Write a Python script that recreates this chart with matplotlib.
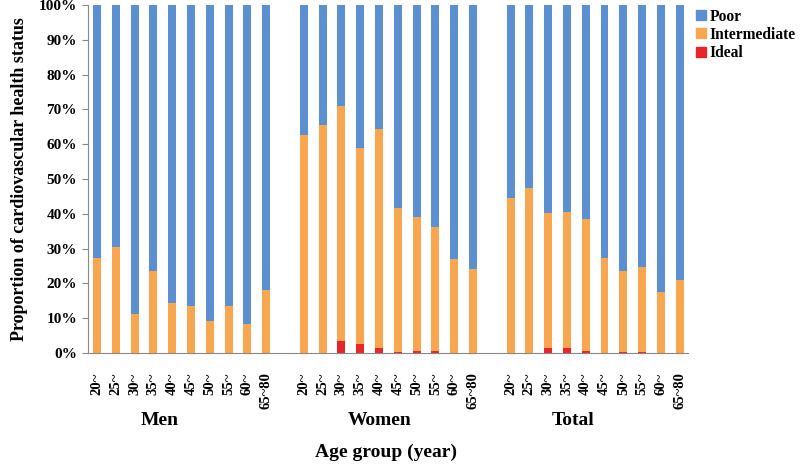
import matplotlib
matplotlib.use("Agg")
import matplotlib.pyplot as plt
import numpy as np
from matplotlib.lines import Line2D

ages = ["20~", "25~", "30~", "35~", "40~", "45~", "50~", "55~", "60~", "65~80"]
groups = ["Men", "Women", "Total"]

# percent of each group in each status
ideal_men = [0, 0, 0, 0, 0, 0, 0, 0, 0, 0]
inter_men = [27.3, 30.4, 11.2, 23.7, 14.5, 13.5, 9.3, 13.5, 8.3, 18.1]
poor_men = [72.7, 69.6, 88.8, 76.3, 85.5, 86.5, 90.7, 86.5, 91.7, 81.9]

ideal_women = [0, 0, 3.3, 2.7, 1.3, 0.4, 0.7, 0.7, 0, 0]
inter_women = [62.8, 65.4, 67.7, 56.3, 63.0, 41.4, 38.3, 35.5, 27.0, 24.1]
poor_women = [37.2, 34.6, 29.0, 41.0, 35.7, 58.2, 61.0, 63.8, 73.0, 75.9]

ideal_total = [0, 0, 1.5, 1.4, 0.6, 0, 0.3, 0.3, 0, 0]
inter_total = [44.5, 47.4, 38.6, 39.2, 38.0, 27.3, 23.4, 24.3, 17.4, 21.0]
poor_total = [55.5, 52.6, 59.9, 59.4, 61.4, 72.7, 76.3, 75.4, 82.6, 79.0]

c_poor = "#5b8fd0"
c_inter = "#f8a64f"
c_ideal = "#e8252a"

plt.rcParams["font.family"] = ["Liberation Serif", "DejaVu Serif"]
plt.rcParams["font.weight"] = "bold"

fig = plt.figure(figsize=(8, 4.65), dpi=100)
ax = fig.add_axes([0.11, 0.241, 0.75, 0.748])

ideal = [ideal_men, ideal_women, ideal_total]
inter = [inter_men, inter_women, inter_total]
poor = [poor_men, poor_women, poor_total]

w = 0.42
for g in range(3):
    x = np.arange(10) + g * 11
    i1 = np.array(ideal[g])
    i2 = np.array(inter[g])
    i3 = np.array(poor[g])
    ax.bar(x, i1, w, color=c_ideal, linewidth=0)
    ax.bar(x, i2, w, bottom=i1, color=c_inter, linewidth=0)
    ax.bar(x, i3, w, bottom=i1 + i2, color=c_poor, linewidth=0)

ticks = np.concatenate([np.arange(10) + g * 11 for g in range(3)])
ax.set_xticks(ticks)
ax.set_xticklabels(ages * 3, rotation=90, fontsize=10.5, fontweight="bold")
ax.set_xlim(-0.48, 31.44)
ax.set_ylim(0, 100)
ax.set_yticks(np.arange(0, 101, 10))
ax.set_yticklabels(["%d%%" % v for v in range(0, 101, 10)], fontsize=11, fontweight="bold")
ax.tick_params(axis="x", length=0, pad=14)
ax.tick_params(axis="y", length=4, color="#888888", pad=4)

for s in ["top", "right"]:
    ax.spines[s].set_visible(False)
ax.spines["left"].set_color("#888888")
ax.spines["bottom"].set_color("#888888")

ax.set_ylabel("Proportion of cardiovascular health status", fontsize=13, fontweight="bold", labelpad=8)

# group names under the age labels
for name, xpos in zip(groups, [3.35, 15.05, 25.3]):
    ax.text(xpos, -19.5, name, ha="center", va="center", fontsize=14, fontweight="bold")
fig.text(0.482, 0.028, "Age group (year)", ha="center", va="center", fontsize=14, fontweight="bold")

handles = [Line2D([], [], marker="s", linestyle="", color=c, markersize=7)
           for c in [c_poor, c_inter, c_ideal]]
fig.legend(handles, ["Poor", "Intermediate", "Ideal"], loc="upper left",
           bbox_to_anchor=(0.857, 1.005), frameon=False,
           handlelength=0.6, handletextpad=0.25, labelspacing=0.15, borderpad=0.2,
           prop={"weight": "bold", "size": 11.2})

fig.savefig("out.png", dpi=100)
